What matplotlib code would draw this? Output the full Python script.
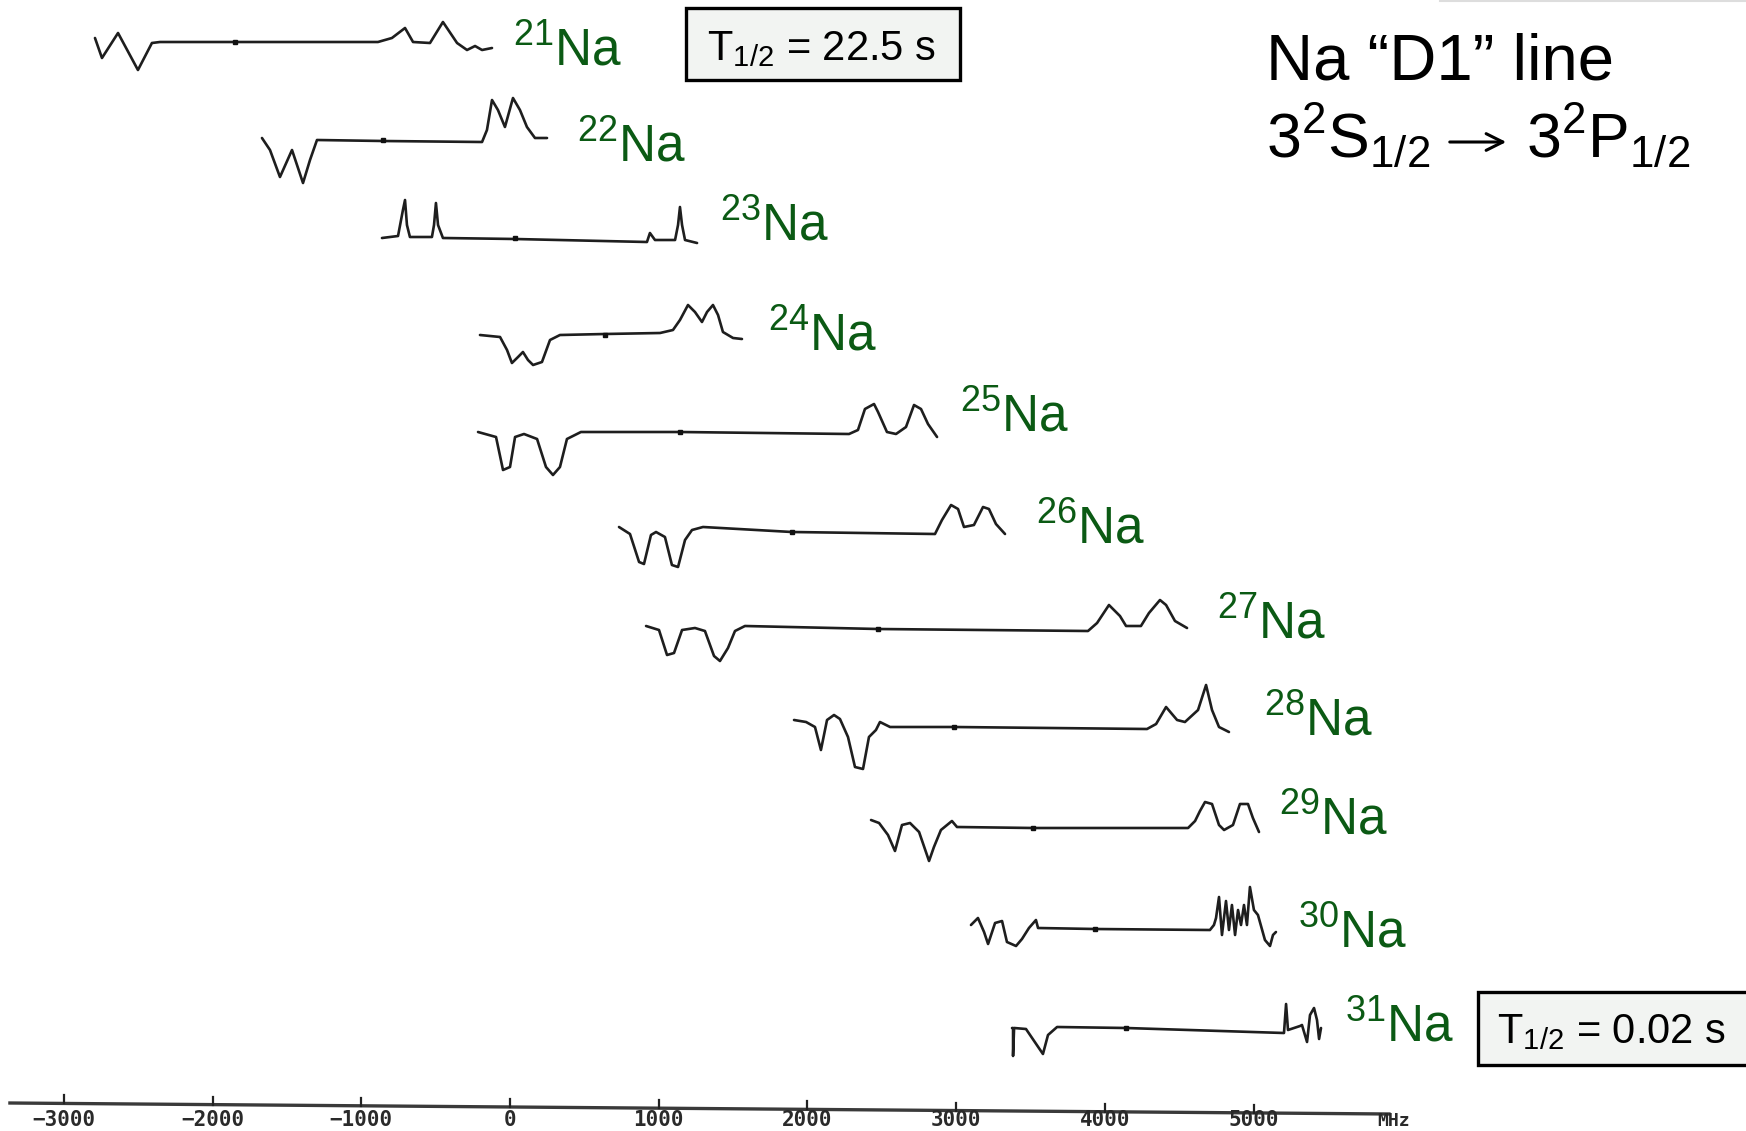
import matplotlib.pyplot as plt
from matplotlib.patches import Rectangle

plt.rcParams['mathtext.fontset'] = 'custom'
plt.rcParams['mathtext.rm'] = 'Liberation Sans'
plt.rcParams['mathtext.default'] = 'regular'
plt.rcParams['font.family'] = ['Liberation Sans', 'DejaVu Sans']

# spectra: frequency (MHz) and signal (arb. units, up = positive)
na21_mhz = [-2791, -2744, -2636, -2502, -2408, -2354, -1849, -888, -794, -706, -652, -538, -451, -356, -289, -235, -188, -121]
na21_sig = [4, -16, 9, -28, -1, 0, 0, 0, 4, 14, 0, -1, 20, -1, -8, -4, -8, -6]

na22_mhz = [-1668, -1614, -1547, -1466, -1392, -1345, -1298, -854, -188, -155, -121, -81, -34, 20, 67, 114, 168, 249]
na22_sig = [2, -10, -37, -10, -43, -20, 0, -1, -2, 10, 40, 30, 13, 42, 30, 13, 2, 2]

na23_mhz = [-861, -753, -720, -706, -693, -673, -525, -511, -498, -484, -451, 34, 921, 941, 975, 1110, 1130, 1143, 1157, 1177, 1258]
na23_sig = [0, 2, 28, 38, 13, 1, 1, 13, 35, 13, 0, -1, -4, 5, -2, -2, 13, 31, 13, -2, -5]

na24_mhz = [-202, -67, -20, 13, 54, 87, 121, 155, 215, 269, 336, 639, 1009, 1096, 1143, 1197, 1244, 1291, 1325, 1365, 1399, 1432, 1500, 1560]
na24_sig = [0, -2, -15, -28, -22, -17, -25, -30, -27, -5, 0, 1, 2, 5, 15, 30, 23, 13, 23, 30, 20, 3, -3, -4]

na25_mhz = [-215, -94, -47, 0, 34, 94, 182, 242, 289, 336, 383, 477, 1143, 2280, 2340, 2387, 2448, 2475, 2535, 2596, 2663, 2717, 2764, 2811, 2872]
na25_sig = [0, -5, -38, -35, -5, -2, -7, -35, -43, -35, -7, 0, 0, -2, 2, 23, 28, 20, 0, -2, 5, 27, 23, 8, -5]

na26_mhz = [733, 807, 868, 901, 948, 982, 1042, 1089, 1130, 1177, 1224, 1298, 1896, 2858, 2905, 2966, 3013, 3053, 3120, 3181, 3221, 3268, 3329]
na26_sig = [5, -2, -30, -32, -3, 0, -5, -33, -35, -8, 2, 5, 0, -2, 12, 27, 23, 5, 7, 25, 23, 8, -2]

na27_mhz = [915, 1002, 1056, 1103, 1157, 1244, 1311, 1372, 1412, 1466, 1513, 1580, 2475, 3887, 3948, 4028, 4102, 4143, 4243, 4297, 4371, 4412, 4472, 4553]
na27_sig = [3, -1, -26, -24, -1, 1, -2, -27, -32, -19, -2, 3, 0, -2, 6, 24, 13, 3, 3, 16, 29, 24, 8, 1]

na28_mhz = [1910, 1991, 2051, 2091, 2132, 2179, 2219, 2273, 2320, 2374, 2414, 2461, 2488, 2556, 2986, 4284, 4345, 4412, 4486, 4539, 4627, 4681, 4721, 4768, 4835]
na28_sig = [7, 5, 0, -23, 7, 12, 8, -10, -40, -42, -10, -3, 5, 0, 0, -2, 3, 20, 7, 5, 17, 42, 17, 0, -5]

na29_mhz = [2428, 2482, 2542, 2589, 2636, 2690, 2751, 2818, 2851, 2898, 2972, 3006, 3517, 4560, 4607, 4640, 4674, 4721, 4768, 4802, 4862, 4909, 4963, 4996, 5037]
na29_sig = [8, 5, -7, -23, 3, 5, -4, -33, -19, -2, 7, 1, 0, 0, 7, 17, 26, 24, 3, -2, 3, 24, 24, 10, -4]

na30_mhz = [3100, 3147, 3188, 3215, 3262, 3309, 3342, 3403, 3443, 3490, 3537, 3551, 3934, 4707, 4734, 4748, 4768, 4788, 4815, 4835, 4855, 4876, 4896, 4916, 4936, 4956, 4976, 5003, 5030, 5077, 5111, 5131, 5151]
na30_sig = [4, 11, -3, -15, 6, 8, -13, -17, -10, 1, 9, 1, 0, -1, 4, 11, 32, -6, 28, -1, 24, -6, 19, 4, 24, 4, 42, 19, 14, -11, -17, -6, -3]

na31_mhz = [3376, 3383, 3383, 3390, 3470, 3584, 3618, 3679, 4143, 5205, 5219, 5232, 5313, 5326, 5360, 5380, 5407, 5427, 5441, 5454]
na31_sig = [0, 0, -28, 0, -1, -26, -7, 1, 0, -5, 24, -2, 2, 3, -14, 13, 20, 8, -11, 0]

# calibration dot on each baseline (MHz)
marks_mhz = [-1849, -854, 34, 639, 1143, 1896, 2475, 2986, 3517, 3934, 4143]

masses = [21, 22, 23, 24, 25, 26, 27, 28, 29, 30, 31]
half_lives = ['22.5 s', '0.02 s']
tick_mhz = [-3000, -2000, -1000, 0, 1000, 2000, 3000, 4000, 5000]

traces = [(na21_mhz, na21_sig), (na22_mhz, na22_sig), (na23_mhz, na23_sig), (na24_mhz, na24_sig),
          (na25_mhz, na25_sig), (na26_mhz, na26_sig), (na27_mhz, na27_sig), (na28_mhz, na28_sig),
          (na29_mhz, na29_sig), (na30_mhz, na30_sig), (na31_mhz, na31_sig)]

# layout (pixels of the 1746x1131 image)
W, H = 1746, 1131
x0, sc = 510, 0.1487          # pixel of 0 MHz, pixels per MHz
baselines = [42, 140, 238, 335, 432, 532, 629, 727, 828, 929, 1028]
label_pos = [(513, 65), (577, 161), (720, 240), (768, 350), (960, 431), (1036, 543),
             (1217, 638), (1264, 735), (1279, 834), (1298, 947), (1345, 1041)]
green = '#0b5a14'

fig = plt.figure(figsize=(W / 100, H / 100), dpi=100)
ax = fig.add_axes([0, 0, 1, 1])
ax.set_xlim(-x0 / sc, (W - x0) / sc)
ax.set_ylim(H, 0)
ax.axis('off')

# pixel overlay for texts and boxes
ov = fig.add_axes([0, 0, 1, 1])
ov.set_xlim(0, W)
ov.set_ylim(H, 0)
ov.axis('off')
ov.patch.set_alpha(0)

for (f, s), base in zip(traces, baselines):
    ax.plot(f, [base - v for v in s], color='#1e1e1e', lw=1.9,
            solid_joinstyle='round', solid_capstyle='round')

for m, base in zip(marks_mhz, baselines):
    ax.plot(m, base, 's', color='#111111', ms=2.5)

for mass, (lx, ly) in zip(masses, label_pos):
    ov.text(lx, ly, '$^{%d}$Na' % mass, color=green, fontsize=37, va='baseline', ha='left')

# frequency axis
ax_l, ax_r = -3363, 5911
y_l, y_r = 1103, 1114
ax.plot([ax_l, ax_r], [y_l, y_r], color='#3a3a3a', lw=2.4)
for t in tick_mhz:
    yt = y_l + (y_r - y_l) * (t - ax_l) / (ax_r - ax_l)
    ax.plot([t, t], [yt, yt - 8], color='#222222', lw=1.6)
    ax.text(t, 1110, str(t).replace('-', '\u2212'), family=['DejaVu Sans Mono'], fontsize=15,
            fontweight='bold', color='#2a2a2a', ha='center', va='top')
ov.text(1394, 1112, 'MHz', family=['DejaVu Sans Mono'], fontsize=13, fontweight='bold',
        color='#2a2a2a', ha='center', va='top')

# half-life boxes
ov.add_patch(Rectangle((686, 8), 274, 72, facecolor='#f2f4f2', edgecolor='black', lw=2.4))
ov.text(707, 60, 'T$_{1/2}$ = ' + half_lives[0], fontsize=30, color='black', va='baseline')
ov.add_patch(Rectangle((1478, 992), 300, 73, facecolor='#f2f4f2', edgecolor='black', lw=2.4, clip_on=False))
ov.text(1497, 1043, 'T$_{1/2}$ = ' + half_lives[1], fontsize=30, color='black', va='baseline')

# title
ov.text(1266, 80, 'Na \u201cD1\u201d line', fontsize=47, color='black', va='baseline')
ov.text(1266, 157, '3$^{2}$S$_{1/2}$', fontsize=45, color='black', va='baseline')
ov.annotate('', xy=(1509, 142), xytext=(1447, 142),
            arrowprops=dict(arrowstyle='->', lw=2.2, color='black', mutation_scale=30))
ov.text(1526, 157, '3$^{2}$P$_{1/2}$', fontsize=45, color='black', va='baseline')
ov.plot([1440, W], [1, 1], color='#dddddd', lw=1.5)

fig.savefig('out.png', dpi=100)
